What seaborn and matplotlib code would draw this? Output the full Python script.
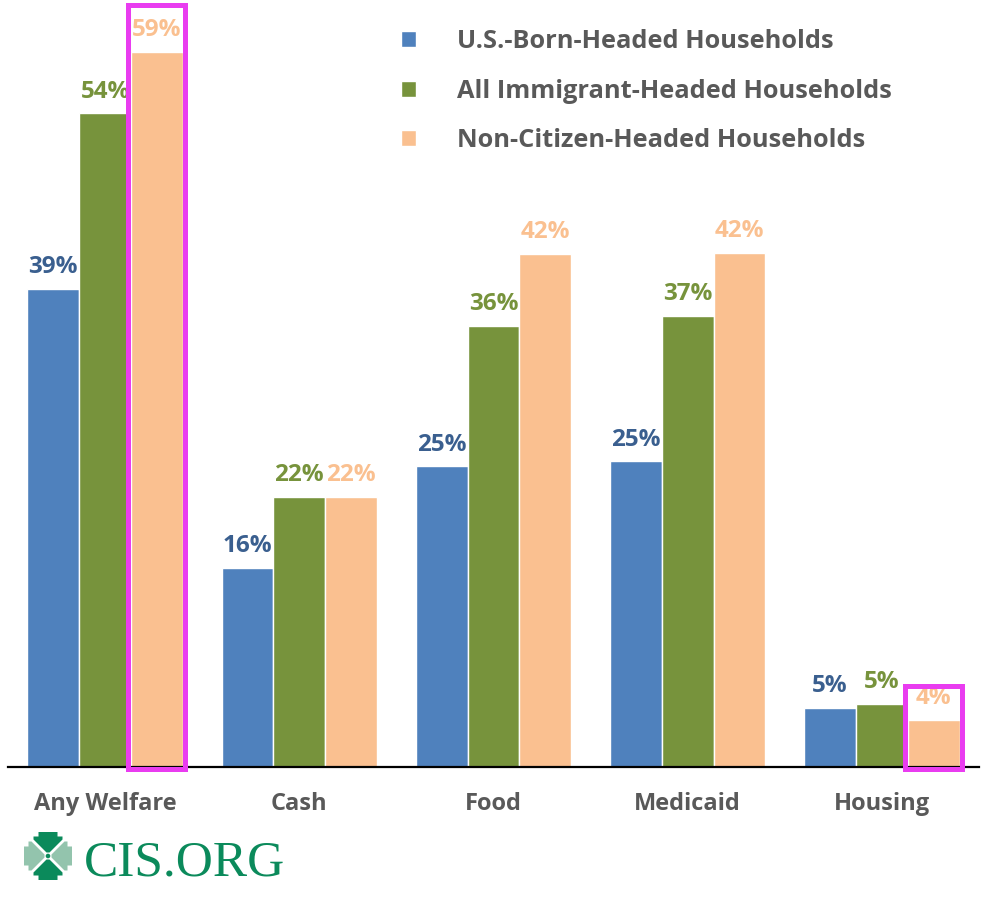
import numpy as np
import pandas as pd
import seaborn as sns
import matplotlib.pyplot as plt
from matplotlib.patches import Rectangle, Polygon

# data (share of households using each program, %)
categories = ['Any Welfare', 'Cash', 'Food', 'Medicaid', 'Housing']
groups = ['U.S.-Born-Headed Households', 'All Immigrant-Headed Households', 'Non-Citizen-Headed Households']
us_born = [39.4, 16.4, 24.8, 25.2, 4.9]
all_immigrant = [53.9, 22.3, 36.4, 37.2, 5.2]
non_citizen = [59.0, 22.3, 42.3, 42.4, 3.9]

bar_colors = ['#4f81bd', '#77933c', '#fac090']
label_colors = ['#3a5f8f', '#77933c', '#fac090']
text_gray = '#595959'
magenta = '#e93cf0'
logo_green = '#0b8a5b'
logo_light = '#93c4ad'

df = pd.DataFrame({
    'category': categories * 3,
    'group': [groups[0]] * 5 + [groups[1]] * 5 + [groups[2]] * 5,
    'value': us_born + all_immigrant + non_citizen,
})

sns.set_theme(style='white')
plt.rcParams['font.family'] = ['Open Sans', 'DejaVu Sans']

fig = plt.figure(figsize=(9.88, 9.0), dpi=100)
ax = fig.add_axes([8 / 988, 1 - 767 / 900, 971 / 988, 764 / 900])

sns.barplot(data=df, x='category', y='value', hue='group', palette=bar_colors,
            saturation=1, width=0.8, edgecolor='white', linewidth=1.0, ax=ax)

ax.set_xlim(-0.5, 4.5)
ax.set_ylim(0, 63.0)
ax.set_xlabel('')
ax.set_ylabel('')
ax.set_yticks([])
for s in ['top', 'right', 'left']:
    ax.spines[s].set_visible(False)
ax.spines['bottom'].set_color('black')
ax.spines['bottom'].set_linewidth(1.6)
ax.tick_params(axis='x', length=0, pad=18, labelsize=17, labelcolor=text_gray)
for t in ax.get_xticklabels():
    t.set_fontweight('bold')

# value labels
for cont, col in zip(ax.containers, label_colors):
    ax.bar_label(cont, labels=[f'{v:.0f}%' for v in cont.datavalues], padding=7,
                 color=col, fontsize=17.5, fontweight='bold')

# magenta highlight boxes round two of the non-citizen bars
orange_bars = ax.containers[2].patches
pad = 0.013
for idx, top in [(0, 62.8), (4, 6.7)]:
    b = orange_bars[idx]
    ax.add_patch(Rectangle((b.get_x() - pad, -0.15), b.get_width() + 2 * pad, top + 0.15,
                           fill=False, edgecolor=magenta, linewidth=3.6, clip_on=False, zorder=5))

# legend
handles, labels = ax.get_legend_handles_labels()
ax.legend_.remove()
leg = fig.legend(handles, labels, loc='upper left', bbox_to_anchor=(401 / 988, 1 - 29 / 900),
                 frameon=False, fontsize=18.3, handlelength=0.6, handleheight=0.6,
                 handletextpad=1.6, labelspacing=0.97, borderpad=0, borderaxespad=0)
for t in leg.get_texts():
    t.set_color(text_gray)
    t.set_fontweight('bold')

# CIS.ORG logo
lax = fig.add_axes([18 / 988, 1 - 886 / 900, 60 / 988, 60 / 900])
lax.set_xlim(-30, 30)
lax.set_ylim(-30, 30)
lax.axis('off')
arm = np.array([(-9.5, 24), (9.5, 24), (9.5, 19.5), (14.5, 19.5), (14.5, 16.5), (1.5, 3.5),
                (-1.5, 3.5), (-14.5, 16.5), (-14.5, 19.5), (-9.5, 19.5)])
for k, col in enumerate([logo_green, logo_light, logo_green, logo_light]):
    a = np.deg2rad(90 * k)
    rot = np.array([[np.cos(a), -np.sin(a)], [np.sin(a), np.cos(a)]])
    lax.add_patch(Polygon(arm @ rot.T, closed=True, color=col, lw=0))
lax.add_patch(plt.Circle((0, 0), 1.6, color=logo_green))
fig.text(84 / 988, 1 - 876 / 900, 'CIS.ORG', family='Liberation Serif', fontsize=37,
         color=logo_green, va='baseline', ha='left')

plt.savefig('out.png', dpi=100)
